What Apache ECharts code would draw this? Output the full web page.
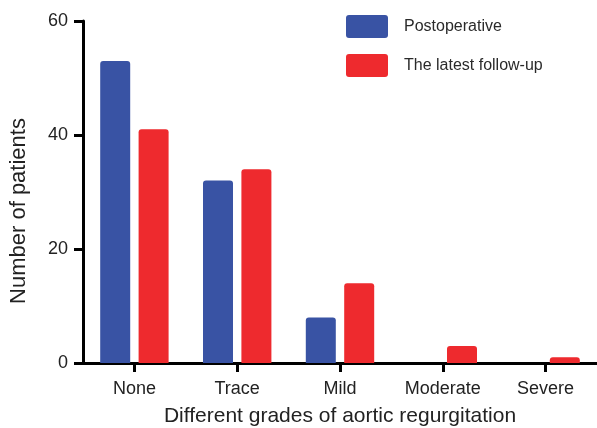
<!DOCTYPE html>
<html>
<head>
<meta charset="utf-8">
<script src="https://cdn.jsdelivr.net/npm/echarts@6/dist/echarts.min.js"></script>
<style>
html,body{margin:0;padding:0;background:#fff;}
#chart{width:597px;height:428px;}
</style>
</head>
<body>
<div id="chart"></div>
<script>
var categories = ['None', 'Trace', 'Mild', 'Moderate', 'Severe'];
var postoperative = [53, 32, 8, 0, 0];
var latestFollowUp = [41, 34, 14, 3, 1];
var seriesNames = ['Postoperative', 'The latest follow-up'];
var yTicks = { min: 0, max: 60, interval: 20 };
var xTitle = 'Different grades of aortic regurgitation';
var yTitle = 'Number of patients';

var FONT = '"Liberation Sans", Arial, Helvetica, sans-serif';
var LEGEND_ICON = 'path://M3,0 L39,0 Q42,0 42,3 L42,20 Q42,23 39,23 L3,23 Q0,23 0,20 L0,3 Q0,0 3,0 Z';
var chart = echarts.init(document.getElementById('chart'), null, {renderer: 'canvas'});
chart.setOption({
  animation: false,
  backgroundColor: '#ffffff',
  textStyle: { fontFamily: FONT },
  legend: {
    orient: 'vertical',
    left: 346,
    top: 15,
    padding: 0,
    itemWidth: 42,
    itemHeight: 23,
    itemGap: 16,
    icon: LEGEND_ICON,
    textStyle: { fontSize: 16, color: '#2a2a2a', fontFamily: FONT, padding: [2, 0, 0, 11] },
    data: seriesNames
  },
  grid: { left: 83, right: 0, top: 21, bottom: 65, containLabel: false, outerBoundsMode: 'none' },
  xAxis: {
    type: 'category',
    data: categories,
    name: xTitle,
    nameLocation: 'middle',
    nameGap: 43,
    nameTextStyle: { fontSize: 21, color: '#222', fontFamily: FONT },
    axisLine: { lineStyle: { color: '#000', width: 3 } },
    axisTick: { show: true, alignWithLabel: true, length: 9, lineStyle: { color: '#000', width: 3 } },
    axisLabel: { fontSize: 18, color: '#222', margin: 17, fontFamily: FONT },
    splitLine: { show: false }
  },
  yAxis: {
    type: 'value',
    min: yTicks.min,
    max: yTicks.max,
    interval: yTicks.interval,
    name: yTitle,
    nameLocation: 'middle',
    nameGap: 53,
    nameTextStyle: { fontSize: 22, color: '#222', fontFamily: FONT, padding: [0, 38, 0, 0] },
    axisLine: { show: true, lineStyle: { color: '#000', width: 3 } },
    axisTick: { show: true, length: 9, lineStyle: { color: '#000', width: 3 } },
    axisLabel: { fontSize: 18, color: '#222', margin: 15, fontFamily: FONT },
    splitLine: { show: false }
  },
  series: [
    {
      name: seriesNames[0],
      type: 'bar',
      data: postoperative,
      barWidth: 30,
      barGap: '28%',
      itemStyle: { color: '#3953a4', borderRadius: [3, 3, 0, 0] }
    },
    {
      name: seriesNames[1],
      type: 'bar',
      data: latestFollowUp,
      barWidth: 30,
      barGap: '28%',
      itemStyle: { color: '#ee2a2e', borderRadius: [3, 3, 0, 0] }
    }
  ]
});
</script>
</body>
</html>
